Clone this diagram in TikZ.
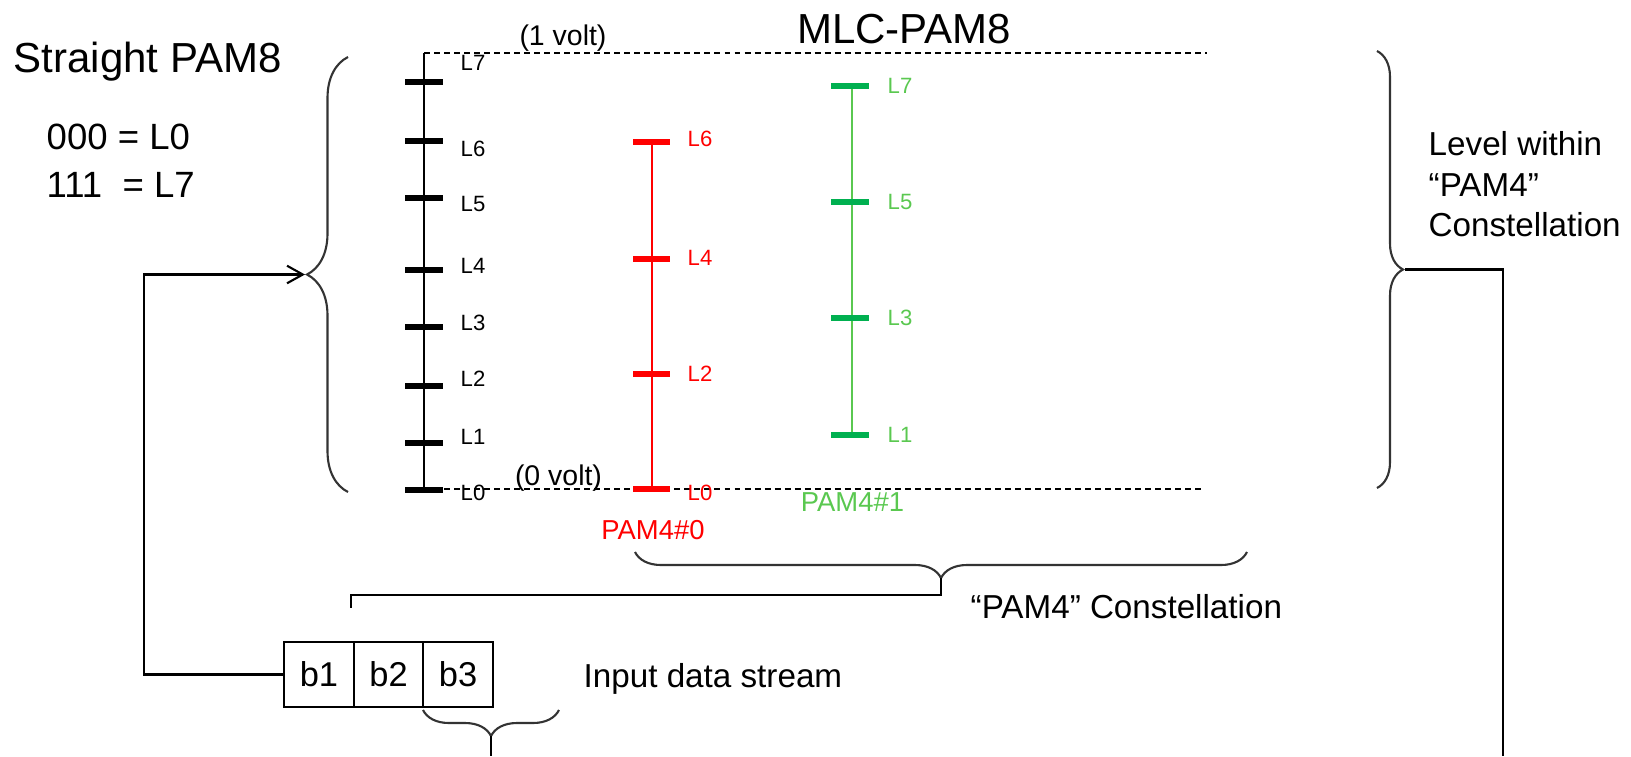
\documentclass[tikz,border=0pt]{standalone}
\usepackage{fontspec}
\setmainfont{Liberation Sans}
\usetikzlibrary{arrows.meta}
\usetikzlibrary{positioning}
\usetikzlibrary{decorations.pathreplacing}
\definecolor{pamred}{RGB}{255,0,0}
\definecolor{tickgreen}{RGB}{0,176,80}
\definecolor{pamgreen}{RGB}{90,200,80}

\begin{document}
\begin{tikzpicture}[
        heading/.style={font=\fontsize{11.95}{14}\selectfont, inner sep=0pt},
        mapping/.style={font=\fontsize{10.4}{12}\selectfont, inner sep=0pt, anchor=base west},
        note/.style={font=\fontsize{9.45}{11.5}\selectfont, inner sep=0pt},
        volt/.style={font=\fontsize{8.1}{9}\selectfont, inner sep=0pt},
        lvl/.style={font=\fontsize{6.3}{7}\selectfont, inner sep=0pt, anchor=west},
        pamname/.style={font=\fontsize{7.8}{9}\selectfont, inner sep=0pt},
        bitbox/.style={draw, line width=0.6pt, minimum width=0.695cm, minimum height=0.65cm,
                       inner sep=0pt, outer sep=0pt, font=\fontsize{9.8}{11}\selectfont},
        refline/.style={dashed, dash pattern=on 1.7pt off 1.15pt, line width=0.5pt},
        curly/.style={decorate, decoration={brace, amplitude=#1}, line width=0.6pt, black!80},
        link/.style={line width=0.6pt},
        arr/.style={link, -{Straight Barb[length=4.5pt, width=5pt]}}
    ]
        \useasboundingbox (0,0) rectangle (16.31,-7.56);

        % --- Titles ---
        \node[heading, anchor=base west] (straight) at (0.13,-0.72) {Straight PAM8};
        \node[heading, anchor=base] (mlc) at (9.04,-0.43) {MLC-PAM8};
        \node[mapping] (map0) at (0.46,-1.49) {000 = L0};
        \node[mapping] (map7) at (0.46,-1.97) {111\ \ = L7};

        % --- Reference levels (0 and 1 volt) ---
        \def\xAxis{4.24}
        \draw[refline] (\xAxis,-0.53) -- (12.07,-0.53);
        \draw[refline] (\xAxis,-4.89) -- (12.03,-4.89);
        \node[volt] (onevolt) at (5.63,-0.38) {(1 volt)};
        \node[volt] (zerovolt) at (5.585,-4.78) {(0 volt)};

        % --- Straight PAM8: eight black levels ---
        \draw[line width=0.6pt] (\xAxis,-0.53) -- (\xAxis,-4.90);
        \foreach \n/\ty/\ly in {7/0.82/0.63, 6/1.41/1.49, 5/1.98/2.04, 4/2.70/2.66,
                                3/3.27/3.23, 2/3.86/3.79, 1/4.43/4.37, 0/4.90/4.93} {
            \draw[line width=1.7pt] (4.05,-\ty) -- (4.43,-\ty);
            \node[lvl] (blk\n) at (4.60,-\ly) {L\n};
        }

        % --- PAM4#0 (even levels) ---
        \draw[pamred, line width=0.7pt] (6.52,-1.42) -- (6.52,-4.89);
        \foreach \n/\ty in {6/1.42, 4/2.59, 2/3.74, 0/4.89} {
            \draw[pamred, line width=1.5pt] (6.33,-\ty) -- (6.70,-\ty);
        }
        \foreach \n/\ly in {6/1.39, 4/2.58, 2/3.74, 0/4.93} {
            \node[lvl, pamred] (red\n) at (6.87,-\ly) {L\n};
        }
        \node[pamname, pamred] (pam0) at (6.53,-5.30) {PAM4\#0};

        % --- PAM4#1 (odd levels) ---
        \draw[pamgreen, line width=0.7pt] (8.52,-0.86) -- (8.52,-4.35);
        \foreach \n/\ty in {7/0.86, 5/2.02, 3/3.18, 1/4.35} {
            \draw[tickgreen, line width=1.5pt] (8.31,-\ty) -- (8.69,-\ty);
            \node[lvl, pamgreen] (grn\n) at (8.87,-\ty) {L\n};
        }
        \node[pamname, pamgreen] (pam1) at (8.525,-5.02) {PAM4\#1};

        % --- Braces ---
        \draw[curly=0.41cm] (3.48,-4.92) -- (3.48,-0.57);
        \coordinate (lbTip) at (3.05,-2.745);
        \draw[curly=0.26cm] (13.77,-0.51) -- (13.77,-4.88);
        \coordinate (rbTip) at (14.05,-2.695);
        \draw[curly=0.26cm, decoration={mirror}] (6.35,-5.52) -- (12.47,-5.52);
        \coordinate (bbTip) at (9.41,-5.78);

        \node[note, anchor=north west, align=left] (levelnote) at (14.28,-1.31)
            {Level within\\“PAM4”\\Constellation};
        \node[note, anchor=base west] (pamnote) at (9.70,-6.18) {“PAM4” Constellation};

        % --- Input bits ---
        \node[bitbox] (b1) at (3.19,-6.745) {b1};
        \node[bitbox, right=0pt of b1] (b2) {b2};
        \node[bitbox, right=0pt of b2] (b3) {b3};
        \node[note, anchor=base west] (stream) at (5.83,-6.87) {Input data stream};
        \draw[curly=0.26cm, decoration={mirror}] (4.23,-7.10) -- (5.59,-7.10);
        \coordinate (sbTip) at (4.91,-7.36);

        % --- Connectors ---
        \coordinate (loopX) at (1.44,-2.745);
        \coordinate (pamTick) at (3.51,-6.08);
        \coordinate (rOut) at (15.03,-7.56);
        \coordinate (sOut) at (4.91,-7.56);
        \draw[arr] (b1.west) -| (loopX) -- (lbTip);
        \draw[link] (rbTip) -| (rOut);
        \draw[link] (bbTip) -- ++(0,-0.17) -| (pamTick);
        \draw[link] (sbTip) -- (sOut);
\end{tikzpicture}
\end{document}
